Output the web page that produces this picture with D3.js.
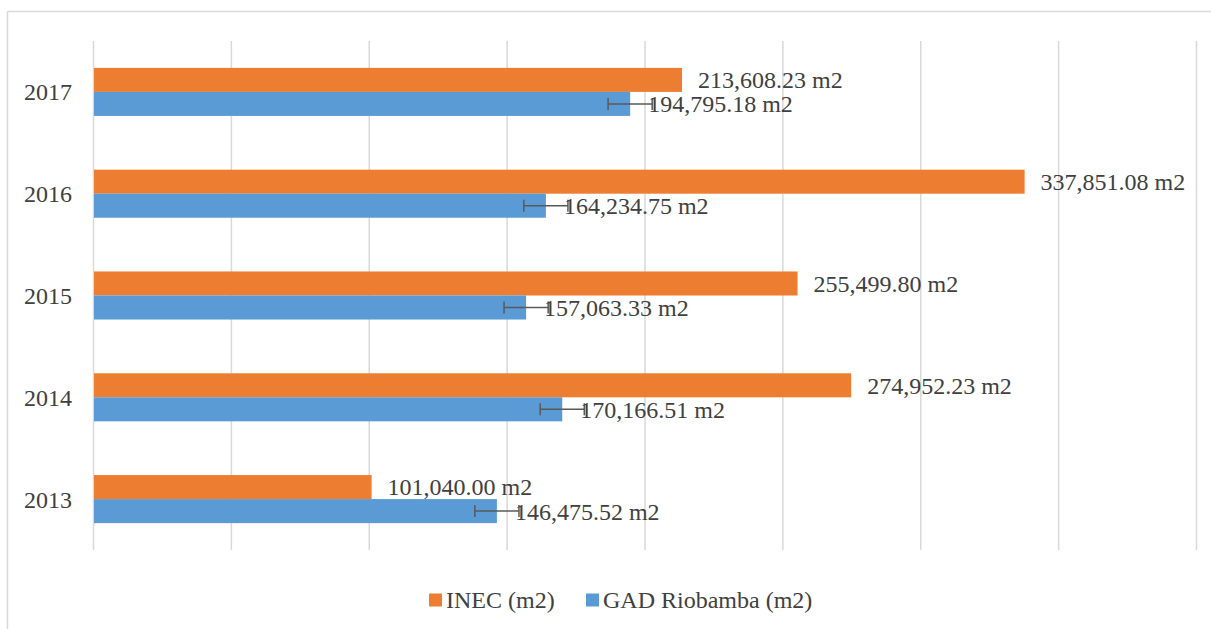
<!DOCTYPE html>
<html>
<head>
<meta charset="utf-8">
<script src="https://cdn.jsdelivr.net/npm/d3@7"></script>
<style>
  html, body { margin: 0; padding: 0; background: #fff; }
  svg { display: block; }
</style>
</head>
<body>
<svg id="chart" width="1211" height="629"></svg>
<script>
// Floor area per year (m2)
const years = ["2013", "2014", "2015", "2016", "2017"];
const inecValues = [101040.00, 274952.23, 255499.80, 337851.08, 213608.23];
const gadValues = [146475.52, 170166.51, 157063.33, 164234.75, 194795.18];
const gadErrors = [8000, 8000, 8000, 8000, 8000];
const gridTicks = [0, 50000, 100000, 150000, 200000, 250000, 300000, 350000, 400000];
const seriesNames = ["INEC (m2)", "GAD Riobamba (m2)"];

const colors = { inec: "#ED7D31", gad: "#5B9BD5" };
const textColor = "#404040";
const gridColor = "#d9d9d9";
const fontFamily = "'Liberation Serif', 'Times New Roman', serif";

const svg = d3.select("#chart");

// Chart frame (top and left edges visible)
svg.append("line").attr("x1", 7.5).attr("x2", 1211).attr("y1", 11.5).attr("y2", 11.5)
  .attr("stroke", gridColor).attr("stroke-width", 1.5);
svg.append("line").attr("x1", 7.5).attr("x2", 7.5).attr("y1", 11.5).attr("y2", 629)
  .attr("stroke", gridColor).attr("stroke-width", 1.5);

const plot = { left: 93, right: 1196, top: 41, bottom: 550 };

const x = d3.scaleLinear().domain([0, 400000]).range([plot.left, plot.right]);
const y = d3.scaleBand().domain(years.slice().reverse()).range([plot.top, plot.bottom]).padding(0);
const barH = y.bandwidth() * 0.236;

// Vertical gridlines
svg.append("g").selectAll("line").data(gridTicks).join("line")
  .attr("x1", d => x(d) + 0.5).attr("x2", d => x(d) + 0.5)
  .attr("y1", plot.top).attr("y2", plot.bottom)
  .attr("stroke", gridColor).attr("stroke-width", 1.5);

const rows = years.map((yr, i) => ({
  year: yr, inec: inecValues[i], gad: gadValues[i], err: gadErrors[i]
}));

const fmt = d3.format(",.2f");

const g = svg.append("g");

// INEC bars (upper)
g.selectAll("rect.inec").data(rows).join("rect")
  .attr("class", "inec")
  .attr("x", x(0) + 1)
  .attr("y", d => y(d.year) + y.bandwidth() / 2 - barH)
  .attr("width", d => x(d.inec) - x(0) - 1)
  .attr("height", barH)
  .attr("fill", colors.inec);

// GAD bars (lower)
g.selectAll("rect.gad").data(rows).join("rect")
  .attr("class", "gad")
  .attr("x", x(0) + 1)
  .attr("y", d => y(d.year) + y.bandwidth() / 2)
  .attr("width", d => x(d.gad) - x(0) - 1)
  .attr("height", barH)
  .attr("fill", colors.gad);

// Error bars on GAD series
const eb = g.selectAll("g.err").data(rows).join("g").attr("class", "err")
  .attr("stroke", "#595959").attr("stroke-width", 1.5);
eb.append("line")
  .attr("x1", d => x(d.gad - d.err)).attr("x2", d => x(d.gad + d.err))
  .attr("y1", d => y(d.year) + y.bandwidth() / 2 + barH / 2)
  .attr("y2", d => y(d.year) + y.bandwidth() / 2 + barH / 2);
eb.append("line")
  .attr("x1", d => x(d.gad - d.err)).attr("x2", d => x(d.gad - d.err))
  .attr("y1", d => y(d.year) + y.bandwidth() / 2 + barH / 2 - 6)
  .attr("y2", d => y(d.year) + y.bandwidth() / 2 + barH / 2 + 6);
eb.append("line")
  .attr("x1", d => x(d.gad + d.err)).attr("x2", d => x(d.gad + d.err))
  .attr("y1", d => y(d.year) + y.bandwidth() / 2 + barH / 2 - 6)
  .attr("y2", d => y(d.year) + y.bandwidth() / 2 + barH / 2 + 6);

// Value labels
g.selectAll("text.inec").data(rows).join("text")
  .attr("class", "inec")
  .attr("x", d => x(d.inec) + 16)
  .attr("y", d => y(d.year) + y.bandwidth() / 2 - barH / 2)
  .attr("dy", "0.35em")
  .attr("font-family", fontFamily).attr("font-size", 24).attr("fill", textColor)
  .text(d => fmt(d.inec) + " m2");

g.selectAll("text.gad").data(rows).join("text")
  .attr("class", "gad")
  .attr("x", d => x(d.gad) + 18)
  .attr("y", d => y(d.year) + y.bandwidth() / 2 + barH / 2)
  .attr("dy", "0.35em")
  .attr("font-family", fontFamily).attr("font-size", 24).attr("fill", textColor)
  .text(d => fmt(d.gad) + " m2");

// Category axis labels
svg.append("g").selectAll("text").data(years).join("text")
  .attr("x", 72)
  .attr("y", d => y(d) + y.bandwidth() / 2)
  .attr("dy", "0.35em")
  .attr("text-anchor", "end")
  .attr("font-family", fontFamily).attr("font-size", 24).attr("fill", textColor)
  .text(d => d);

// Legend
const legend = svg.append("g");
const legendItems = [
  { name: seriesNames[0], color: colors.inec, x: 429 },
  { name: seriesNames[1], color: colors.gad, x: 586 }
];
const li = legend.selectAll("g").data(legendItems).join("g")
  .attr("transform", d => `translate(${d.x},600)`);
li.append("rect").attr("x", 0).attr("y", -6.5).attr("width", 13).attr("height", 13)
  .attr("fill", d => d.color);
li.append("text").attr("x", 17).attr("y", 0).attr("dy", "0.35em")
  .attr("font-family", fontFamily).attr("font-size", 24).attr("fill", textColor)
  .text(d => d.name);
</script>
</body>
</html>
